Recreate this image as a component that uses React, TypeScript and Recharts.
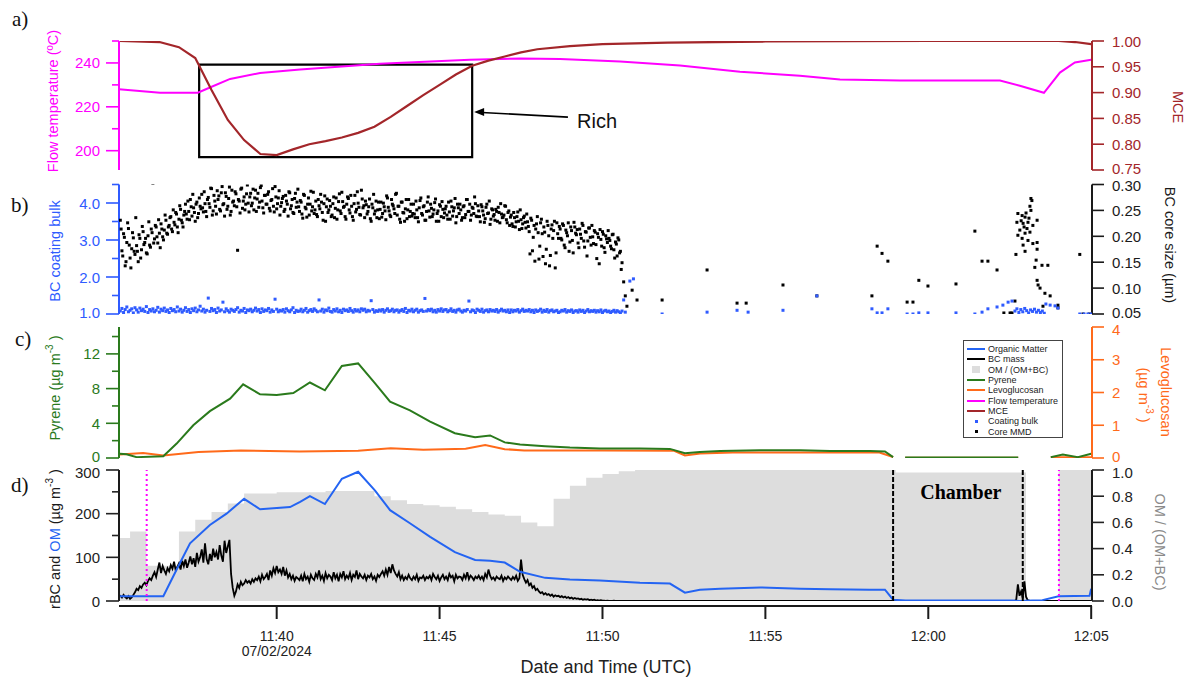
import React from 'react';
import {
  ComposedChart, Line, Area, Scatter, XAxis, YAxis,
  ReferenceLine, ReferenceArea, ReferenceDot,
} from 'recharts';

const FONT = '"Liberation Sans", Arial, sans-serif';
const SERIF = '"Liberation Serif", "Times New Roman", serif';
const W = 1193;
const LEFT_W = 119;
const RIGHT_W = 101;
const T_DOMAIN: [number, number] = [35.16, 65.025]; // minutes after 11:00 UTC

const MAGENTA = '#ff00ff';
const MCE_RED = '#a3262a';
const BULK_BLUE = '#2f5bff';
const GREEN = '#2a7a1c';
const ORANGE = '#ff6a1a';
const OM_BLUE = '#2464f2';
const GREY_FILL = '#dddddd';
const INK = '#1a1a1a';

// ---------- panel a ----------
const flowTime = [35.16, 36.42, 37.58, 37.95, 38.57, 39.49, 40.72, 43.17, 45.93, 47.47, 48.7, 50.54, 52.38, 54.22, 56.06, 57.29, 59.13, 62.2, 62.81, 63.55, 64.04, 64.5, 65.0];
const flowTemp = [228.0, 226.4, 226.4, 228.8, 232.7, 235.4, 237.0, 239.6, 241.5, 242.0, 241.8, 240.6, 238.8, 236.0, 234.2, 232.4, 232.0, 232.0, 229.6, 226.4, 235.6, 240.2, 241.5];
const mceTime = [35.16, 36.4, 37.0, 37.5, 38.0, 38.5, 39.0, 39.5, 40.0, 40.5, 41.0, 41.5, 42.0, 42.5, 43.0, 43.5, 44.0, 44.5, 45.0, 45.5, 46.0, 46.5, 47.0, 47.5, 48.0, 49.0, 50.0, 52.0, 55.0, 60.0, 64.0, 64.5, 65.0];
const mceVal = [1.0, 0.998, 0.988, 0.967, 0.905, 0.847, 0.808, 0.781, 0.779, 0.79, 0.8, 0.806, 0.813, 0.822, 0.834, 0.853, 0.874, 0.895, 0.915, 0.935, 0.952, 0.962, 0.97, 0.978, 0.984, 0.99, 0.994, 0.997, 0.999, 1.0, 1.0, 0.998, 0.994];
const flowTicks = [200, 210, 220, 230, 240, 250];
const flowMajor = [200, 220, 240];
const mceTicks = [0.75, 0.8, 0.85, 0.9, 0.95, 1.0];

// ---------- panel b ----------
const coreStart = 35.2;
const coreStep = 0.05;
const coreMmd = [
  0.231, 0.172, 0.205, 0.143, 0.188, 0.215, 0.158, 0.176, 0.197, 0.165,
  0.182, 0.151, 0.196, 0.174, 0.209, 0.188, 0.168, 0.201, 0.183, 0.214,
  0.302, 0.195, 0.218, 0.187, 0.206, 0.224, 0.199, 0.212, 0.231, 0.204,
  0.221, 0.238, 0.209, 0.227, 0.246, 0.218, 0.233, 0.252, 0.226, 0.241,
  0.262, 0.233, 0.248, 0.271, 0.239, 0.255, 0.229, 0.266, 0.244, 0.258,
  0.281, 0.247, 0.263, 0.238, 0.275, 0.256, 0.292, 0.249, 0.268, 0.243,
  0.271, 0.252, 0.284, 0.261, 0.239, 0.277, 0.258, 0.295, 0.248, 0.266,
  0.259, 0.282, 0.173, 0.268, 0.291, 0.254, 0.276, 0.262, 0.299, 0.247,
  0.283, 0.264, 0.251, 0.289, 0.272, 0.256, 0.294, 0.268, 0.245, 0.279,
  0.262, 0.286, 0.249, 0.271, 0.258, 0.296, 0.253, 0.274, 0.241, 0.265,
  0.277, 0.252, 0.268, 0.239, 0.284, 0.259, 0.246, 0.273, 0.256, 0.291,
  0.248, 0.266, 0.235, 0.279, 0.253, 0.262, 0.241, 0.287, 0.257, 0.244,
  0.268, 0.238, 0.259, 0.281, 0.246, 0.263, 0.229, 0.272, 0.251, 0.258,
  0.241, 0.276, 0.254, 0.233, 0.267, 0.249, 0.285, 0.256, 0.238, 0.262,
  0.273, 0.245, 0.258, 0.231, 0.279, 0.252, 0.264, 0.242, 0.289, 0.255,
  0.236, 0.261, 0.248, 0.272, 0.229, 0.255, 0.243, 0.268, 0.251, 0.234,
  0.266, 0.244, 0.257, 0.232, 0.274, 0.249, 0.238, 0.262, 0.253, 0.281,
  0.241, 0.258, 0.227, 0.266, 0.245, 0.253, 0.234, 0.271, 0.248, 0.239,
  0.262, 0.236, 0.251, 0.228, 0.269, 0.244, 0.257, 0.231, 0.248, 0.276,
  0.237, 0.254, 0.243, 0.265, 0.229, 0.249, 0.261, 0.238, 0.252, 0.245,
  0.258, 0.233, 0.247, 0.268, 0.239, 0.255, 0.226, 0.262, 0.244, 0.251,
  0.236, 0.259, 0.242, 0.271, 0.248, 0.231, 0.256, 0.244, 0.263, 0.238,
  0.249, 0.228, 0.257, 0.241, 0.234, 0.262, 0.245, 0.223, 0.253, 0.239,
  0.231, 0.248, 0.256, 0.226, 0.243, 0.237, 0.259, 0.232, 0.246, 0.221,
  0.241, 0.219, 0.236, 0.228, 0.247, 0.213, 0.232, 0.224, 0.239, 0.216,
  0.228, 0.209, 0.235, 0.172, 0.221, 0.214, 0.238, 0.156, 0.226, 0.205,
  0.218, 0.147, 0.229, 0.201, 0.163, 0.222, 0.211, 0.139, 0.226, 0.196,
  0.214, 0.193, 0.221, 0.178, 0.207, 0.226, 0.189, 0.211, 0.168, 0.218,
  0.203, 0.187, 0.214, 0.196, 0.221, 0.179, 0.208, 0.191, 0.216, 0.183,
  0.199, 0.211, 0.184, 0.205, 0.147, 0.194, 0.209, 0.178, 0.201, 0.188,
  0.196, 0.181, 0.203, 0.174, 0.189, 0.162, 0.193, 0.171, 0.149, 0.112,
  0.085, 0.065,
];
// second reading of the same cloud, sampled half a step later
const coreStart2 = 35.225;
const coreMmd2 = [
  0.214, 0.162, 0.198, 0.151, 0.226, 0.183, 0.139, 0.207, 0.171, 0.236,
  0.171, 0.203, 0.158, 0.219, 0.184, 0.196, 0.166, 0.228, 0.179, 0.207,
  0.187, 0.221, 0.199, 0.232, 0.178, 0.214, 0.193, 0.241, 0.206, 0.218,
  0.236, 0.214, 0.251, 0.222, 0.243, 0.207, 0.259, 0.231, 0.218, 0.248,
  0.243, 0.268, 0.232, 0.257, 0.281, 0.246, 0.262, 0.236, 0.274, 0.253,
  0.255, 0.286, 0.248, 0.271, 0.263, 0.293, 0.241, 0.279, 0.258, 0.288,
  0.278, 0.249, 0.296, 0.263, 0.284, 0.252, 0.273, 0.241, 0.289, 0.268,
  0.286, 0.257, 0.271, 0.245, 0.293, 0.268, 0.251, 0.282, 0.264, 0.276,
  0.259, 0.291, 0.274, 0.248, 0.283, 0.266, 0.298, 0.255, 0.279, 0.262,
  0.281, 0.254, 0.269, 0.292, 0.247, 0.276, 0.263, 0.288, 0.258, 0.273,
  0.248, 0.279, 0.262, 0.286, 0.253, 0.271, 0.244, 0.283, 0.266, 0.257,
  0.269, 0.243, 0.281, 0.256, 0.237, 0.274, 0.262, 0.249, 0.285, 0.251,
  0.242, 0.271, 0.253, 0.266, 0.231, 0.278, 0.257, 0.246, 0.269, 0.238,
  0.263, 0.236, 0.274, 0.251, 0.282, 0.244, 0.267, 0.258, 0.233, 0.276,
  0.251, 0.279, 0.238, 0.263, 0.247, 0.286, 0.256, 0.241, 0.272, 0.259,
  0.268, 0.243, 0.257, 0.234, 0.262, 0.281, 0.249, 0.236, 0.266, 0.252,
  0.237, 0.264, 0.249, 0.278, 0.256, 0.241, 0.271, 0.259, 0.244, 0.283,
  0.258, 0.233, 0.266, 0.246, 0.229, 0.271, 0.251, 0.238, 0.262, 0.244,
  0.243, 0.268, 0.236, 0.255, 0.274, 0.241, 0.259, 0.231, 0.266, 0.249,
  0.262, 0.238, 0.251, 0.272, 0.244, 0.229, 0.258, 0.267, 0.236, 0.253,
  0.241, 0.266, 0.233, 0.257, 0.249, 0.273, 0.238, 0.255, 0.262, 0.231,
  0.257, 0.236, 0.271, 0.248, 0.262, 0.241, 0.254, 0.276, 0.239, 0.259,
  0.238, 0.261, 0.249, 0.227, 0.256, 0.244, 0.268, 0.233, 0.251, 0.242,
  0.252, 0.229, 0.246, 0.263, 0.236, 0.241, 0.258, 0.226, 0.249, 0.237,
  0.224, 0.246, 0.218, 0.238, 0.229, 0.251, 0.215, 0.236, 0.227, 0.243,
  0.219, 0.166, 0.231, 0.198, 0.152, 0.224, 0.207, 0.181, 0.233, 0.161,
  0.208, 0.175, 0.221, 0.143, 0.214, 0.196, 0.229, 0.168, 0.205, 0.219,
  0.196, 0.224, 0.183, 0.212, 0.201, 0.171, 0.218, 0.192, 0.227, 0.206,
  0.213, 0.178, 0.204, 0.225, 0.191, 0.209, 0.162, 0.216, 0.198, 0.221,
  0.186, 0.208, 0.157, 0.198, 0.213, 0.181, 0.204, 0.169, 0.195, 0.211,
  0.192, 0.176, 0.204, 0.158, 0.185, 0.197, 0.168, 0.136,
];
const coreTail: [number, number][] = [
  [50.91, 0.096], [51.06, 0.077], [51.83, 0.077], [53.21, 0.135], [54.13, 0.071], [54.41, 0.071],
  [55.54, 0.106], [56.58, 0.085], [58.27, 0.085], [58.43, 0.181], [58.58, 0.167], [58.76, 0.152],
  [59.35, 0.073], [59.53, 0.073], [59.71, 0.115], [59.99, 0.104], [60.85, 0.108], [61.43, 0.21],
  [61.65, 0.152], [61.83, 0.152], [62.11, 0.135], [62.32, 0.052], [62.51, 0.052], [62.57, 0.052],
  [62.66, 0.075], [62.69, 0.165], [62.72, 0.227], [62.75, 0.244], [62.75, 0.202], [62.81, 0.212],
  [62.85, 0.23], [62.88, 0.24], [62.88, 0.196], [62.91, 0.225], [62.91, 0.183], [62.94, 0.218],
  [62.97, 0.237], [62.97, 0.206], [62.97, 0.171], [63.0, 0.245], [63.03, 0.215], [63.06, 0.227],
  [63.06, 0.192], [63.09, 0.235], [63.12, 0.208], [63.12, 0.258], [63.15, 0.273], [63.15, 0.25],
  [63.18, 0.269], [63.21, 0.221], [63.21, 0.186], [63.27, 0.14], [63.31, 0.154], [63.34, 0.231],
  [63.34, 0.188], [63.34, 0.175], [63.34, 0.115], [63.37, 0.106], [63.43, 0.1], [63.49, 0.144],
  [63.52, 0.065], [63.58, 0.09], [63.67, 0.144], [63.74, 0.085], [63.98, 0.067], [63.98, 0.062],
  [64.65, 0.165], [64.75, 0.05], [64.94, 0.05],
];
const bulkStart = 35.2;
const bulkStep = 0.05;
const coatingBulk = [
  1.08, 1.15, 1.04, 1.12, 1.19, 1.06, 1.1, 1.14, 1.03, 1.17,
  1.11, 1.05, 1.16, 1.09, 1.13, 1.07, 1.2, 1.04, 1.12, 1.08,
  1.14, 1.06, 1.1, 1.18, 1.05, 1.13, 1.09, 1.16, 1.07, 1.11,
  1.04, 1.15, 1.09, 1.12, 1.06, 1.19, 1.08, 1.13, 1.05, 1.1,
  1.17, 1.07, 1.12, 1.04, 1.14, 1.09, 1.16, 1.06, 1.11, 1.21,
  1.08, 1.13, 1.05, 1.1, 1.43, 1.07, 1.15, 1.09, 1.12, 1.04,
  1.16, 1.08, 1.11, 1.32, 1.06, 1.14, 1.09, 1.05, 1.13, 1.1,
  1.07, 1.12, 1.17, 1.05, 1.1, 1.08, 1.15, 1.04, 1.11, 1.09,
  1.13, 1.06, 1.1, 1.16, 1.08, 1.12, 1.04, 1.14, 1.07, 1.11,
  1.09, 1.15, 1.05, 1.11, 1.07, 1.4, 1.13, 1.06, 1.1, 1.08,
  1.12, 1.05, 1.14, 1.09, 1.06, 1.11, 1.17, 1.04, 1.1, 1.07,
  1.08, 1.13, 1.06, 1.1, 1.15, 1.05, 1.09, 1.12, 1.07, 1.14,
  1.1, 1.06, 1.38, 1.08, 1.13, 1.05, 1.11, 1.09, 1.16, 1.07,
  1.05, 1.12, 1.08, 1.14, 1.06, 1.1, 1.04, 1.13, 1.09, 1.11,
  1.07, 1.15, 1.09, 1.05, 1.12, 1.08, 1.11, 1.06, 1.14, 1.1,
  1.13, 1.06, 1.1, 1.08, 1.36, 1.12, 1.05, 1.09, 1.07, 1.11,
  1.08, 1.12, 1.05, 1.1, 1.14, 1.07, 1.09, 1.13, 1.06, 1.1,
  1.11, 1.05, 1.09, 1.12, 1.07, 1.15, 1.04, 1.1, 1.08, 1.13,
  1.06, 1.1, 1.13, 1.05, 1.09, 1.11, 1.07, 1.42, 1.08, 1.12,
  1.09, 1.13, 1.06, 1.1, 1.05, 1.12, 1.08, 1.14, 1.07, 1.11,
  1.12, 1.06, 1.09, 1.14, 1.07, 1.1, 1.05, 1.11, 1.13, 1.08,
  1.05, 1.1, 1.08, 1.12, 1.35, 1.06, 1.11, 1.09, 1.04, 1.13,
  1.1, 1.07, 1.13, 1.05, 1.09, 1.11, 1.06, 1.12, 1.08, 1.1,
  1.07, 1.12, 1.05, 1.09, 1.13, 1.08, 1.1, 1.06, 1.11, 1.04,
  1.11, 1.06, 1.1, 1.08, 1.12, 1.05, 1.09, 1.13, 1.07, 1.1,
  1.08, 1.12, 1.06, 1.1, 1.04, 1.11, 1.07, 1.09, 1.13, 1.05,
  1.1, 1.07, 1.12, 1.05, 1.09, 1.11, 1.06, 1.08, 1.1, 1.04,
  1.06, 1.1, 1.08, 1.12, 1.05, 1.09, 1.07, 1.11, 1.04, 1.08,
  1.09, 1.05, 1.11, 1.07, 1.1, 1.04, 1.08, 1.12, 1.06, 1.09,
  1.07, 1.1, 1.05, 1.09, 1.06, 1.11, 1.04, 1.08, 1.1, 1.06,
  1.08, 1.04, 1.07, 1.1, 1.05, 1.09, 1.06, 1.03, 1.08, 1.38,
  1.05,
];
const bulkTail: [number, number][] = [
  [50.84, 1.89], [50.95, 1.95], [51.83, 1.0], [53.21, 1.05], [54.13, 1.1], [54.47, 1.05],
  [55.54, 1.1], [56.58, 1.49], [58.27, 1.14], [58.43, 1.03], [58.58, 1.03], [58.76, 1.14],
  [59.35, 1.0], [59.53, 1.0], [59.71, 1.03], [59.99, 1.03], [60.85, 1.03], [61.43, 1.0],
  [61.65, 1.05], [61.83, 1.14], [62.11, 1.19], [62.29, 1.24], [62.45, 1.32], [62.57, 1.35],
  [62.66, 1.08], [62.72, 1.14], [62.78, 1.04], [62.84, 1.12], [62.9, 1.06], [62.96, 1.15],
  [63.02, 1.09], [63.08, 1.03], [63.14, 1.11], [63.2, 1.07], [63.26, 1.13], [63.32, 1.05],
  [63.38, 1.1], [63.44, 1.04], [63.5, 1.08], [63.56, 1.02], [63.61, 1.27], [63.74, 1.24],
  [63.89, 1.22], [63.98, 1.16], [64.65, 1.0], [64.78, 1.0], [64.9, 1.0], [65.0, 1.0],
];
const bulkTicks = [1, 1.5, 2, 2.5, 3, 3.5, 4, 4.5];
const bulkMajor = [1, 2, 3, 4];
const coreTicks = [0.05, 0.1, 0.15, 0.2, 0.25, 0.3];

// ---------- panel c ----------
const pyreneTime = [35.19, 35.39, 35.7, 36.52, 36.93, 37.44, 37.95, 38.57, 38.97, 39.49, 40.0, 40.51, 41.02, 41.48, 42.0, 42.5, 43.02, 43.48, 44.09, 44.71, 45.47, 46.09, 46.55, 47.0, 47.47, 48.24, 49.0, 49.92, 51.15, 52.07, 52.53, 52.99, 53.61, 54.84, 56.07, 56.99, 58.21, 58.67, 58.92, 59.05, 59.29, 60.5, 61.8, 62.76, 62.9, 63.76, 64.13, 64.59, 65.0];
const pyreneVal = [0.5, 0.43, 0.1, 0.2, 1.66, 3.77, 5.4, 6.84, 8.49, 7.34, 7.26, 7.49, 8.7, 7.8, 10.6, 10.9, 8.6, 6.5, 5.5, 4.2, 2.85, 2.4, 2.6, 1.8, 1.55, 1.35, 1.2, 1.1, 1.1, 1.05, 0.55, 0.7, 0.8, 0.9, 0.9, 0.8, 0.8, 0.75, 0.1, null, 0.05, 0.05, 0.05, 0.05, null, 0.1, 0.4, 0.1, 0.5];
const levoTime = [35.19, 35.9, 36.52, 37.6, 38.9, 40.7, 42.5, 43.5, 44.5, 45.8, 46.4, 47.0, 47.6, 50.0, 52.2, 52.53, 53.0, 54.0, 58.5, 58.92, 59.05, 59.29, 62.76, 62.9, 63.76, 65.0];
const levoVal = [0.11, 0.15, 0.08, 0.18, 0.23, 0.2, 0.22, 0.3, 0.25, 0.28, 0.4, 0.27, 0.23, 0.23, 0.22, 0.08, 0.14, 0.17, 0.17, 0.03, null, 0.01, 0.01, null, 0.02, 0.02];
const pyreneTicks = [0, 2, 4, 6, 8, 10, 12, 14];
const pyreneMajor = [0, 4, 8, 12];
const levoTicks = [0, 1, 2, 3, 4];

// ---------- panel d ----------
const omTime = [35.19, 36.52, 36.93, 37.34, 37.95, 38.46, 39.0, 39.49, 40.41, 40.72, 41.02, 41.48, 42.0, 42.5, 43.02, 43.48, 44.09, 44.71, 45.47, 46.09, 46.55, 47.0, 47.47, 48.24, 49.0, 49.92, 51.15, 52.07, 52.53, 52.99, 53.61, 54.84, 56.07, 56.99, 58.21, 58.67, 58.92, 59.3, 62.6, 62.8, 63.2, 63.5, 64.0, 64.95, 65.0];
const omVal = [11, 11, 72, 132, 174, 200, 234, 210, 215, 227, 240, 222, 280, 296, 253, 208, 178, 147, 112, 94, 92, 88, 67, 53, 49, 47, 42, 40, 19, 26, 28, 31, 28, 27, 26, 26, 3, 1, 1, 0, 1, 2, 11, 12, 28];
const bcStart = 35.15;
const bcStep = 0.05;
const bcMass = [
  10, 12, 8, 14, 9, 6, 11, 5, 8, 14,
  20, 28, 25, 34, 30, 38, 42, 36, 46, 52,
  48, 58, 66, 55, 72, 88, 64, 80, 70, 62,
  75, 68, 82, 74, 90, 70, 78, 86, 72, 92,
  80, 95, 76, 88, 102, 84, 98, 78, 110, 90,
  100, 118, 88, 132, 96, 84, 108, 92, 120, 100,
  112, 95, 128, 104, 90, 138, 110, 125, 140, 62,
  30, 12, 22, 38, 30, 44, 36, 40, 48, 42,
  46, 40, 50, 44, 52, 48, 56, 45, 60, 50,
  55, 62, 48, 70, 58, 75, 64, 80, 66, 72,
  62, 78, 58, 70, 54, 62, 50, 58, 46, 55,
  52, 48, 58, 45, 62, 50, 56, 44, 60, 52,
  48, 62, 54, 70, 50, 58, 46, 64, 52, 60,
  56, 48, 66, 52, 60, 45, 62, 54, 68, 50,
  58, 52, 64, 48, 60, 55, 70, 50, 62, 56,
  52, 60, 48, 58, 54, 62, 50, 56, 46, 60,
  55, 62, 68, 58, 72, 60, 78, 64, 84, 70,
  62, 56, 66, 50, 58, 48, 55, 50, 60, 52,
  48, 56, 50, 60, 46, 54, 52, 58, 48, 55,
  52, 58, 48, 62, 55, 50, 58, 46, 54, 60,
  50, 56, 48, 62, 54, 58, 45, 60, 52, 56,
  55, 48, 60, 52, 66, 50, 58, 54, 48, 56,
  52, 58, 50, 56, 48, 62, 54, 72, 58, 50,
  54, 48, 56, 52, 50, 58, 46, 54, 50, 56,
  52, 48, 55, 50, 58, 46, 52, 95, 60, 50,
  42, 48, 36, 40, 30, 34, 25, 28, 22, 18,
  20, 15, 18, 14, 16, 12, 15, 10, 13, 11,
  12, 9, 11, 8, 10, 7, 9, 6, 8, 5,
  7, 5, 6, 4, 5, 3, 4, 3, 4, 2,
  3, 2, 3, 1, 2, 1, 2, 1, 1, 0.5,
  1, 0.5, 0.5, 0, 0.5, 0, 0, 0.3, 0, 0,
];
const bcTail: [number, number][] = [
  [50.8, 0], [55, 0], [60, 0], [62.65, 0], [62.7, 3], [62.75, 38], [62.8, 12], [62.85, 22],
  [62.9, 6], [62.95, 45], [63.0, 10], [63.05, 2], [63.15, 0], [65.0, 0],
];
const ratioStart = 35.0;
const ratioStep = 0.5;
const omFraction = [
  0.48, 0.53, 0.27, 0.27, 0.53, 0.62, 0.68, 0.745, 0.82, 0.82,
  0.83, 0.83, 0.83, 0.84, 0.84, 0.84, 0.8, 0.77, 0.74, 0.73,
  0.72, 0.7, 0.68, 0.66, 0.65, 0.6, 0.57, 0.78, 0.88, 0.94,
  0.97, 0.99, 1.0, 1.0, 1.0, 1.0, 1.0, 1.0, 1.0, 1.0,
  1.0, 1.0, 1.0, 1.0, 1.0, 1.0, 1.0, 1.0, 0.98, 0.98,
  0.98, 0.98, 0.98, 0.98, 0.98, 0.98, 0, 0, 1.0, 1.0,
  1.0,
];
const rbcTicks = [0, 50, 100, 150, 200, 250, 300];
const rbcMajor = [0, 100, 200, 300];
const fracTicks = [0, 0.2, 0.4, 0.6, 0.8, 1.0];
const timeTicks = [40, 45, 50, 55, 60, 65];
const plumeMarks = [36.01, 64.01];
const chamberMarks = [58.92, 62.9];

const legendItems = [
  { name: 'Organic Matter', color: OM_BLUE, kind: 'line' },
  { name: 'BC mass', color: '#000', kind: 'line' },
  { name: 'OM / (OM+BC)', color: GREY_FILL, kind: 'box' },
  { name: 'Pyrene', color: GREEN, kind: 'line' },
  { name: 'Levoglucosan', color: ORANGE, kind: 'line' },
  { name: 'Flow temperature', color: MAGENTA, kind: 'line' },
  { name: 'MCE', color: MCE_RED, kind: 'line' },
  { name: 'Coating bulk', color: BULK_BLUE, kind: 'dot' },
  { name: 'Core MMD', color: '#000', kind: 'dot' },
];

// ---------- helpers ----------
const pairs = (ts: number[], vs: (number | null)[]) => ts.map((t, i) => ({ t, v: vs[i] }));
const regular = (t0: number, step: number, vs: number[]) =>
  vs.map((v, i) => ({ t: +(t0 + i * step).toFixed(3), v }));
const tail = (ps: [number, number][]) => ps.map(([t, v]) => ({ t, v }));

const flowRows = pairs(flowTime, flowTemp);
const mceRows = pairs(mceTime, mceVal);
const coreRows = [
  ...regular(coreStart, coreStep, coreMmd),
  ...regular(coreStart2, coreStep, coreMmd2),
  ...tail(coreTail),
];
const bulkRows = [...regular(bulkStart, bulkStep, coatingBulk), ...tail(bulkTail)];
const pyreneRows = pairs(pyreneTime, pyreneVal);
const levoRows = pairs(levoTime, levoVal);
const omRows = pairs(omTime, omVal);
const bcRows = [...regular(bcStart, bcStep, bcMass), ...tail(bcTail)];
const ratioRows = regular(ratioStart, ratioStep, omFraction);

const fmtTime = (m: number) => `${11 + Math.floor(m / 60)}:${String(Math.round(m % 60)).padStart(2, '0')}`;

// nudge: small vertical shift for labels that sit on a panel edge
function axisTick(side: 'left' | 'right', color: string, majors: number[] | null, fmt: (v: number) => string,
  nudge: Record<string, number> = {}) {
  return (p: any) => {
    const v = p.payload.value;
    const major = !majors || majors.some((m) => Math.abs(m - v) < 1e-9);
    const dir = side === 'left' ? -1 : 1;
    const len = major ? (side === 'left' ? 13 : 12) : 7;
    const gap = side === 'left' ? 6 : 8;
    const dy = nudge[String(v)] ?? 0;
    return (
      <g>
        <line x1={p.x} x2={p.x + dir * len} y1={p.y} y2={p.y} stroke={color} strokeWidth={1.6} />
        {major && (
          <text x={p.x + dir * (len + gap)} y={p.y + dy} textAnchor={side === 'left' ? 'end' : 'start'}
            dominantBaseline="central" fill={color} fontSize={15} fontFamily={FONT}>
            {fmt(v)}
          </text>
        )}
      </g>
    );
  };
}

const timeTick = (p: any) => {
  const v = p.payload.value;
  return (
    <g>
      <line x1={p.x} x2={p.x} y1={p.y + 5} y2={p.y + 18} stroke={INK} strokeWidth={2} />
      <text x={p.x} y={p.y + 35} textAnchor="middle" dominantBaseline="central" fontSize={14} fill="#222" fontFamily={FONT}>
        {fmtTime(v)}
      </text>
      {v === 40 && (
        <text x={p.x} y={p.y + 50} textAnchor="middle" dominantBaseline="central" fontSize={14} fill="#222" fontFamily={FONT}>
          07/02/2024
        </text>
      )}
    </g>
  );
};

const square = (color: string, s = 3) => (p: any) =>
  <rect x={p.cx - s / 2} y={p.cy - s / 2} width={s} height={s} fill={color} />;

const hiddenX = <XAxis xAxisId={0} dataKey="t" type="number" domain={T_DOMAIN} allowDataOverflow hide />;
const chartMargin = { top: 20, right: 0, bottom: 20, left: 0 };

function Sup({ children }: { children: string }) {
  return (
    <>
      <tspan fontSize={10} dy={-6}>{children}</tspan>
      <tspan dy={6}> )</tspan>
    </>
  );
}

function Titles() {
  const t = (x: number, y: number, rot: number) => `translate(${x},${y}) rotate(${rot})`;
  const base = { textAnchor: 'middle' as const, dominantBaseline: 'central' as const, fontFamily: FONT, fontSize: 14.5 };
  const letter = { fontFamily: SERIF, fontSize: 21, fill: '#111', dominantBaseline: 'central' as const };
  return (
    <svg width={W} height={682} style={{ position: 'absolute', left: 0, top: 0, pointerEvents: 'none' }}>
      <text x={12} y={19} {...letter}>a)</text>
      <text x={11} y={205} {...letter}>b)</text>
      <text x={15} y={339} {...letter}>c)</text>
      <text x={11} y={485} {...letter}>d)</text>

      <text transform={t(53, 101, -90)} {...base} fill={MAGENTA}>Flow temperature (ºC)</text>
      <text transform={t(1178, 107, 90)} {...base} fill={MCE_RED}>MCE</text>
      <text transform={t(55, 251, -90)} {...base} fill={BULK_BLUE}>BC coating bulk</text>
      <text transform={t(1170, 245, 90)} {...base} fill={INK}>BC core size (µm)</text>
      <text transform={t(55, 388, -90)} {...base} fill={GREEN}>Pyrene (µg m<Sup>-3</Sup></text>
      <text transform={t(1166, 392, 90)} {...base} fill={ORANGE}>Levoglucosan</text>
      <text transform={t(1144, 395, 90)} {...base} fill={ORANGE}>(µg m<Sup>-3</Sup></text>
      <text transform={t(55, 539, -90)} {...base} fill={INK}>
        rBC and <tspan fill={OM_BLUE}>OM</tspan> (µg m<Sup>-3</Sup>
      </text>
      <text transform={t(1160, 542, 90)} {...base} fill="#8a8a8a">OM / (OM+BC)</text>
      <text x={606} y={667} textAnchor="middle" dominantBaseline="central" fontFamily={FONT} fontSize={18} fill="#222">
        Date and Time (UTC)
      </text>
    </svg>
  );
}

function LegendBox() {
  return (
    <div style={{
      position: 'absolute', left: 963, top: 340, width: 100, height: 98, boxSizing: 'border-box',
      border: '1px solid #444', background: '#fff', paddingTop: 3, fontFamily: FONT, fontSize: 9, color: '#222',
    }}>
      {legendItems.map((it) => (
        <div key={it.name} style={{ height: 10.3, display: 'flex', alignItems: 'center' }}>
          <div style={{ width: 24, display: 'flex', justifyContent: 'center' }}>
            {it.kind === 'line' && <div style={{ width: 18, height: 2, background: it.color }} />}
            {it.kind === 'box' && <div style={{ width: 8, height: 7, background: it.color }} />}
            {it.kind === 'dot' && <div style={{ width: 3, height: 3, background: it.color }} />}
          </div>
          <span style={{ whiteSpace: 'nowrap', lineHeight: '10px' }}>{it.name}</span>
        </div>
      ))}
    </div>
  );
}

export default function App() {
  return (
    <div style={{ position: 'absolute', left: 0, top: 0, width: W, height: 682, background: '#fff', overflow: 'hidden' }}>
      {/* a) flow temperature and MCE */}
      <div style={{ position: 'absolute', left: 0, top: 21 }}>
        <ComposedChart width={W} height={169} margin={chartMargin}>
          {hiddenX}
          <YAxis yAxisId="left" orientation="left" width={LEFT_W} type="number" domain={[191.2, 250]} ticks={flowTicks}
            interval={0} allowDataOverflow tickSize={0} tickMargin={0} tickLine={false}
            axisLine={{ stroke: MAGENTA, strokeWidth: 2 }} tick={axisTick('left', MAGENTA, flowMajor, (v) => String(v))} />
          <YAxis yAxisId="right" orientation="right" width={RIGHT_W} type="number" domain={[0.75, 1.0]} ticks={mceTicks}
            interval={0} allowDataOverflow tickSize={0} tickMargin={0} tickLine={false}
            axisLine={{ stroke: MCE_RED, strokeWidth: 2 }}
            tick={axisTick('right', MCE_RED, null, (v) => v.toFixed(2), { '0.75': -2 })} />
          <Line data={flowRows} dataKey="v" yAxisId="left" type="linear" stroke={MAGENTA} strokeWidth={2} dot={false} isAnimationActive={false} />
          <Line data={mceRows} dataKey="v" yAxisId="right" type="linear" stroke={MCE_RED} strokeWidth={2.2} dot={false} isAnimationActive={false} />
          <ReferenceArea yAxisId="left" x1={37.62} x2={46.0} y1={197.1} y2={239.2} fill="none" stroke="#000" strokeWidth={2.2} />
          <ReferenceLine yAxisId="left" segment={[{ x: 48.94, y: 215.3 }, { x: 46.3, y: 217.4 }]} stroke="#000" strokeWidth={1.6} />
          <ReferenceDot yAxisId="left" x={46.06} y={217.6} r={4}
            shape={(p: any) => <polygon points={`${p.cx},${p.cy} ${p.cx + 10},${p.cy - 4} ${p.cx + 10},${p.cy + 4}`} fill="#000" />} />
          <ReferenceDot yAxisId="left" x={49.22} y={213.6} r={4}
            shape={(p: any) => (
              <text x={p.cx} y={p.cy} dominantBaseline="central" fontFamily={FONT} fontSize={20} fill="#111">Rich</text>
            )} />
        </ComposedChart>
      </div>

      {/* b) BC coating and core size */}
      <div style={{ position: 'absolute', left: 0, top: 164 }}>
        <ComposedChart width={W} height={170} margin={{ ...chartMargin, top: 20.5 }}>
          {hiddenX}
          <YAxis yAxisId="left" orientation="left" width={LEFT_W} type="number" domain={[1, 4.5]} ticks={bulkTicks}
            interval={0} allowDataOverflow tickSize={0} tickMargin={0} tickLine={false}
            axisLine={{ stroke: BULK_BLUE, strokeWidth: 2 }}
            tick={axisTick('left', BULK_BLUE, bulkMajor, (v) => v.toFixed(1), { '1': -2 })} />
          <YAxis yAxisId="right" orientation="right" width={RIGHT_W} type="number" domain={[0.05, 0.3]} ticks={coreTicks}
            interval={0} allowDataOverflow tickSize={0} tickMargin={0} tickLine={false}
            axisLine={{ stroke: INK, strokeWidth: 2 }}
            tick={axisTick('right', INK, null, (v) => v.toFixed(2), { '0.05': -2, '0.3': 1 })} />
          <Scatter data={coreRows} dataKey="v" yAxisId="right" shape={square('#000', 3)} isAnimationActive={false} />
          <Scatter data={bulkRows} dataKey="v" yAxisId="left" shape={square(BULK_BLUE, 3)} isAnimationActive={false} />
        </ComposedChart>
      </div>

      {/* c) pyrene and levoglucosan */}
      <div style={{ position: 'absolute', left: 0, top: 307 }}>
        <ComposedChart width={W} height={171} margin={chartMargin}>
          {hiddenX}
          <YAxis yAxisId="left" orientation="left" width={LEFT_W} type="number" domain={[0, 15.1]} ticks={pyreneTicks}
            interval={0} allowDataOverflow tickSize={0} tickMargin={0} tickLine={false}
            axisLine={{ stroke: GREEN, strokeWidth: 2 }}
            tick={axisTick('left', GREEN, pyreneMajor, (v) => String(v), { '0': -2 })} />
          <YAxis yAxisId="right" orientation="right" width={RIGHT_W} type="number" domain={[0, 4]} ticks={levoTicks}
            interval={0} allowDataOverflow tickSize={0} tickMargin={0} tickLine={false}
            axisLine={{ stroke: ORANGE, strokeWidth: 2 }}
            tick={axisTick('right', ORANGE, null, (v) => String(v), { '0': -2, '4': 2 })} />
          <Line data={levoRows} dataKey="v" yAxisId="right" type="linear" stroke={ORANGE} strokeWidth={2} dot={false} isAnimationActive={false} />
          <Line data={pyreneRows} dataKey="v" yAxisId="left" type="linear" stroke={GREEN} strokeWidth={2} dot={false} isAnimationActive={false} />
        </ComposedChart>
      </div>

      {/* d) rBC, OM and OM fraction */}
      <div style={{ position: 'absolute', left: 0, top: 450 }}>
        <ComposedChart width={W} height={226} margin={{ top: 20, right: 0, bottom: 0, left: 0 }}>
          <XAxis xAxisId={0} dataKey="t" type="number" domain={T_DOMAIN} allowDataOverflow ticks={timeTicks} interval={0}
            height={75} tickSize={0} tickMargin={0} tickLine={false}
            axisLine={{ stroke: INK, strokeWidth: 2, transform: 'translate(0 5)' }} tick={timeTick} />
          <YAxis yAxisId="left" orientation="left" width={LEFT_W} type="number" domain={[0, 300]} ticks={rbcTicks}
            interval={0} allowDataOverflow tickSize={0} tickMargin={0} tickLine={false}
            axisLine={{ stroke: INK, strokeWidth: 2 }}
            tick={axisTick('left', '#222', rbcMajor, (v) => String(v), { '300': 2 })} />
          <YAxis yAxisId="right" orientation="right" width={RIGHT_W} type="number" domain={[0, 1]} ticks={fracTicks}
            interval={0} allowDataOverflow tickSize={0} tickMargin={0} tickLine={false}
            axisLine={{ stroke: INK, strokeWidth: 2 }}
            tick={axisTick('right', '#222', null, (v) => v.toFixed(1), { '1': 2 })} />
          <Area data={ratioRows} dataKey="v" yAxisId="right" type="stepAfter" stroke="none" fill={GREY_FILL} fillOpacity={1} isAnimationActive={false} />
          <Line data={bcRows} dataKey="v" yAxisId="left" type="linear" stroke="#000" strokeWidth={1.8} dot={false} isAnimationActive={false} />
          <Line data={omRows} dataKey="v" yAxisId="left" type="linear" stroke={OM_BLUE} strokeWidth={2} dot={false} isAnimationActive={false} />
          {plumeMarks.map((x) => (
            <ReferenceLine key={`p${x}`} x={x} yAxisId="left" stroke={MAGENTA} strokeWidth={2} strokeDasharray="2 3" />
          ))}
          {chamberMarks.map((x) => (
            <ReferenceLine key={`c${x}`} x={x} yAxisId="left" stroke="#000" strokeWidth={2} strokeDasharray="5 2" />
          ))}
          <ReferenceDot yAxisId="left" x={61.0} y={249} r={4}
            shape={(p: any) => (
              <text x={p.cx} y={p.cy} textAnchor="middle" dominantBaseline="central" fontFamily={SERIF}
                fontWeight="bold" fontSize={20} fill="#000">Chamber</text>
            )} />
        </ComposedChart>
      </div>

      <LegendBox />
      <Titles />
    </div>
  );
}
